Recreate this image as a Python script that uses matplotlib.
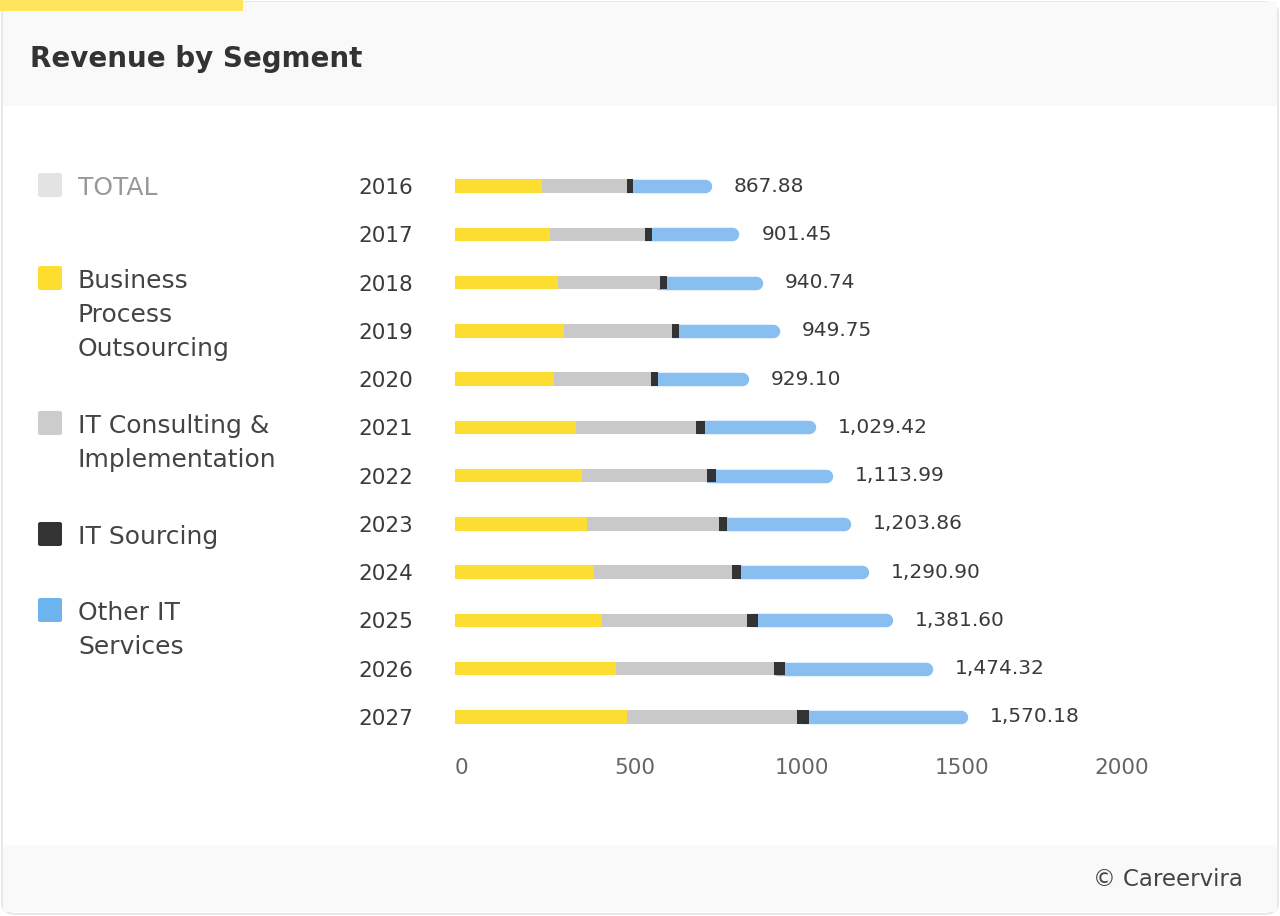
import matplotlib.pyplot as plt
from matplotlib.patches import Rectangle, FancyBboxPatch
import numpy as np

years = ["2016", "2017", "2018", "2019", "2020", "2021", "2022", "2023", "2024", "2025", "2026", "2027"]
bpo = [271, 297, 323, 341, 310, 379, 398, 412, 435, 461, 503, 537]
it_consulting = [266, 297, 318, 337, 304, 376, 392, 414, 431, 454, 495, 532]
it_sourcing = [19, 22, 23, 24, 21, 26, 26, 26, 29, 32, 34, 39]
other_it = [247, 273, 298, 315, 284, 348, 367, 386, 401, 424, 462, 497]
totals = ["867.88", "901.45", "940.74", "949.75", "929.10", "1,029.42", "1,113.99",
          "1,203.86", "1,290.90", "1,381.60", "1,474.32", "1,570.18"]
xticks = [0, 500, 1000, 1500, 2000]

legend_names = ["TOTAL", "Business\nProcess\nOutsourcing", "IT Consulting &\nImplementation",
                "IT Sourcing", "Other IT\nServices"]

c_yellow = "#fedd33"
c_gray = "#c9c9c9"
c_dark = "#333333"
c_blue = "#88bff0"
txt = "#3a3a3a"

W, H = 1280, 916
fig = plt.figure(figsize=(W / 100, H / 100), dpi=100)
fig.patch.set_facecolor("white")

def fx(px):
    return px / W

def fy(py):
    return 1 - py / H

# card background
fig.patches.append(FancyBboxPatch((fx(2), fy(914)), fx(1276), 912 / H,
                                  boxstyle="round,pad=0,rounding_size=0.012",
                                  transform=fig.transFigure, facecolor="white",
                                  edgecolor="#e4e4e4", lw=1.2, zorder=0))
fig.patches.append(Rectangle((fx(3), fy(106)), fx(1274), 104 / H, transform=fig.transFigure,
                             facecolor="#f9f9f9", edgecolor="none", zorder=0.5))
fig.patches.append(Rectangle((fx(3), fy(912)), fx(1274), 67 / H, transform=fig.transFigure,
                             facecolor="#f9f9f9", edgecolor="none", zorder=0.5))
fig.patches.append(Rectangle((0, fy(11)), fx(243), 11 / H, transform=fig.transFigure,
                             facecolor="#ffe45c", edgecolor="none", zorder=1))

fig.text(fx(30), fy(59), "Revenue by Segment", fontsize=20, fontweight="bold",
         color="#333333", va="center", ha="left")
fig.text(fx(1243), fy(880), "\u00a9 Careervira", fontsize=16.5, color="#444444",
         va="center", ha="right")

# legend
leg_colors = ["#e3e3e3", "#ffdd2e", "#cccccc", "#333333", "#6db4ee"]
leg_y = [185, 278, 423, 534, 610]
for name, col, y in zip(legend_names, leg_colors, leg_y):
    fig.patches.append(FancyBboxPatch((fx(38), fy(y + 12)), fx(24), 24 / H,
                                      boxstyle="round,pad=0,rounding_size=0.002",
                                      transform=fig.transFigure, facecolor=col,
                                      edgecolor="none", zorder=2))
    fig.text(fx(78), fy(y - 9), name, fontsize=18, color="#999999" if name == "TOTAL" else "#444444",
             va="top", ha="left", linespacing=1.52)

# chart
ax = fig.add_axes([fx(455), (H - 741) / H, fx(639), 579 / H])
ax.set_zorder(5)
ax.set_facecolor("none")
y = np.arange(len(years))
h = 0.28
left = np.zeros(len(years))
bar_px = 13.5
r = (bar_px / 2) / (639 / 2000)

ends = np.array(bpo) + np.array(it_consulting) + np.array(it_sourcing) + np.array(other_it)
start_blue = np.array(bpo) + np.array(it_consulting) + np.array(it_sourcing)
for i in range(len(years)):
    ax.plot([start_blue[i] - r, ends[i] - r], [y[i], y[i]], color=c_blue,
            lw=bar_px * 0.72, solid_capstyle="round", zorder=1)

ax.barh(y, bpo, left=left, height=h, color=c_yellow, zorder=2)
left = left + np.array(bpo)
ax.barh(y, it_consulting, left=left, height=h, color=c_gray, zorder=2)
left = left + np.array(it_consulting)
ax.barh(y, it_sourcing, left=left, height=h, color=c_dark, zorder=2)

for i in range(len(years)):
    ax.annotate(totals[i], (ends[i], y[i]), xytext=(16, 0), textcoords="offset points",
                va="center", ha="left", fontsize=14.5, color=txt)

ax.set_xlim(0, 2000)
ax.set_ylim(len(years) - 0.5, -0.5)
ax.set_yticks(y)
ax.set_yticklabels(years, fontsize=15.5, color=txt)
ax.set_xticks(xticks)
ax.set_xticklabels([str(t) for t in xticks], fontsize=15.5, color="#666666", ha="left")
ax.tick_params(axis="both", length=0)
ax.tick_params(axis="y", pad=30)
ax.tick_params(axis="x", pad=12)
for s in ax.spines.values():
    s.set_visible(False)

fig.savefig("out.png", dpi=100)
